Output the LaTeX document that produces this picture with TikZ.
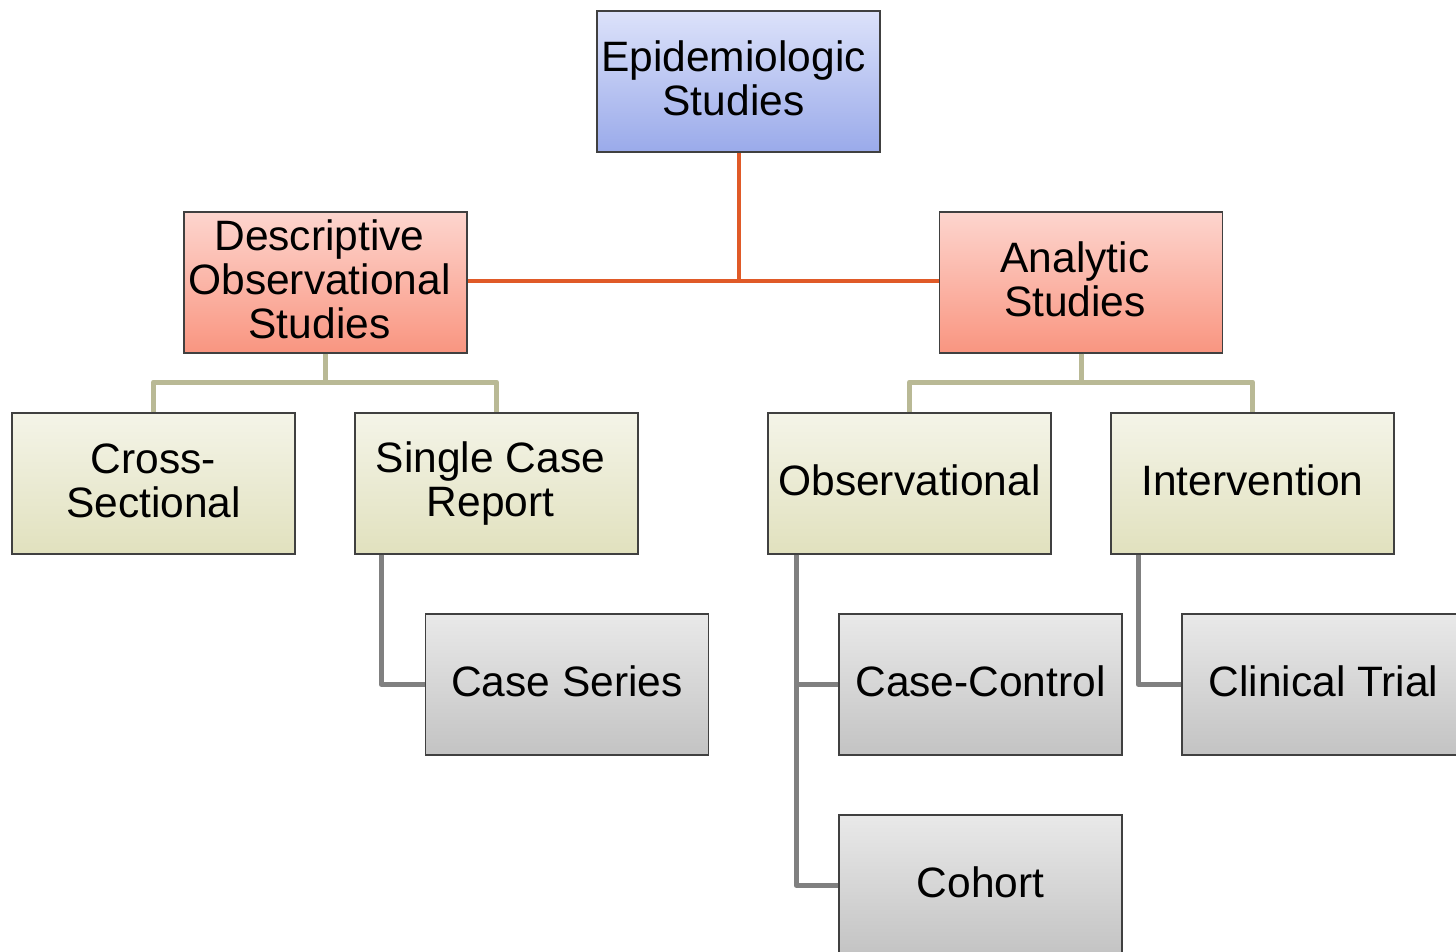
\documentclass[tikz,border=0pt]{standalone}
\usepackage{fontspec}
\setmainfont{Liberation Sans}
\usetikzlibrary{calc}
\definecolor{bluetop}{HTML}{DCE2FA}
\definecolor{bluebot}{HTML}{9AAAEA}
\definecolor{redtop}{HTML}{FDD5CE}
\definecolor{redbot}{HTML}{F99580}
\definecolor{beigetop}{HTML}{F4F4E8}
\definecolor{beigebot}{HTML}{E1E1BE}
\definecolor{greytop}{HTML}{E9E9E9}
\definecolor{greybot}{HTML}{C3C3C3}
\definecolor{bordercol}{HTML}{404040}
\definecolor{orangeline}{HTML}{E05A28}
\definecolor{beigeline}{HTML}{B9B995}
\definecolor{greyline}{HTML}{808080}
\tikzset{
  box/.style={draw=bordercol, line width=1.2pt, minimum width=283pt, minimum height=141pt,
    inner sep=0pt, align=center, font=\fontsize{42.5}{44}\selectfont},
  bluebox/.style={box, top color=bluetop, bottom color=bluebot},
  redbox/.style={box, top color=redtop, bottom color=redbot},
  beigebox/.style={box, top color=beigetop, bottom color=beigebot},
  greybox/.style={box, top color=greytop, bottom color=greybot},
  orangeconn/.style={draw=orangeline, line width=4pt},
  beigeconn/.style={draw=beigeline, line width=5pt, line join=round},
  greyconn/.style={draw=greyline, line width=5pt, line join=round},
}
\newcommand{\lift}{\rule[-6pt]{0pt}{0pt}}
\begin{document}
\begin{tikzpicture}[x=1pt,y=-1pt]
\useasboundingbox (0,0) rectangle (1456,952);
\fill[white] (0,0) rectangle (1456,952);
\clip (0,0) rectangle (1456,952);

% orange connectors
\coordinate (epiB) at (738.5,152);
\coordinate (descR) at (467,281);
\coordinate (anaL) at (940,281);
\draw[orangeconn] (epiB) -- (738.5,281);
\draw[orangeconn] (descR) -- (anaL);

% boxes
\node[bluebox] (epi) at (738.5,81.5) {\hspace*{-10pt}Epidemiologic\\\hspace*{-10pt}Studies\lift};
\node[redbox] (desc) at (325.5,282.5) {\hspace*{-12pt}Descriptive\\\hspace*{-12pt}Observational\\\hspace*{-12pt}Studies\lift};
\node[redbox] (ana) at (1081,282.5) {\hspace*{-12pt}Analytic\\\hspace*{-12pt}Studies\lift};
\node[beigebox] (cross) at (153.5,483.5) {Cross-\\Sectional\lift};
\node[beigebox] (single) at (496.5,483.5) {\hspace*{-12pt}Single Case\\\hspace*{-12pt}Report\lift};
\node[beigebox] (obs) at (909.5,483.5) {Observational\lift};
\node[beigebox] (int) at (1252.5,483.5) {Intervention\lift};
\node[greybox] (series) at (567,684.5) {Case Series\lift};
\node[greybox] (cc) at (980.5,684.5) {Case-Control\lift};
\node[greybox] (trial) at (1323.5,684.5) {Clinical Trial\lift};
\node[greybox] (cohort) at (980.5,885.5) {Cohort\lift};

% beige connectors
\draw[beigeconn] (desc.south) -- ++(0,28.5) coordinate (dj);
\draw[beigeconn] (cross.north) |- (dj) -| (single.north);
\draw[beigeconn] (ana.south) -- ++(0,28.5) coordinate (aj);
\draw[beigeconn] (obs.north) |- (aj) -| (int.north);

% grey connectors
\draw[greyconn] ($(single.south west)+(27,0)$) |- (series.west);
\draw[greyconn] ($(obs.south west)+(29,0)$) |- (cohort.west);
\draw[greyconn] ($(obs.south west)+(29,0)$) |- (cc.west);
\draw[greyconn] ($(int.south west)+(28,0)$) |- (trial.west);
\end{tikzpicture}
\end{document}
